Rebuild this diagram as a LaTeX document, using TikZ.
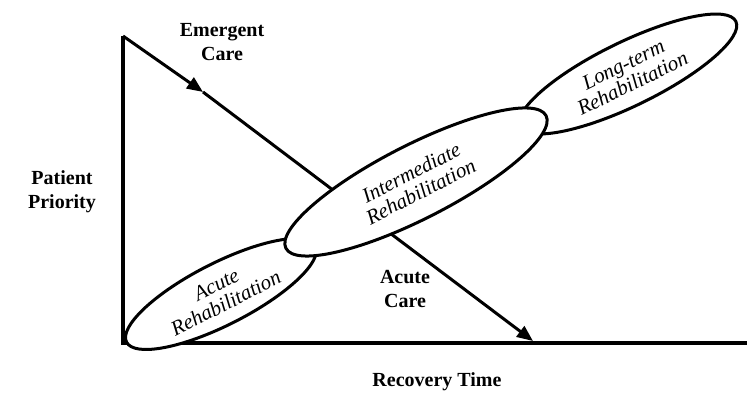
\documentclass[tikz,border=0pt]{standalone}
\usepackage{fontspec}
\setmainfont{Liberation Serif}
\usetikzlibrary{shapes.geometric,arrows.meta}
\begin{document}
\begin{tikzpicture}[x=1pt,y=1pt,
  axisline/.style={line width=3.5pt,line join=miter},
  flowline/.style={line width=3pt,-{Triangle[length=16pt,width=13pt]}},
  rehab/.style={ellipse,draw,line width=3pt,fill=white,inner sep=0pt,align=center,
    font=\fontsize{21}{21}\selectfont\itshape},
  caption/.style={align=center,font=\fontsize{20}{24}\selectfont\bfseries}]
\useasboundingbox (0,0) rectangle (747,412);
% axes and care line
\coordinate (top) at (123,376);
\coordinate (origin) at (123,69);
\coordinate (xend) at (747,69);
\coordinate (mid) at (203,320);
\coordinate (tip) at (533,71);
\draw[axisline] (top) -- (origin) -- (xend);
\draw[flowline] (top) -- (mid);
\draw[flowline] (mid) -- (tip);
% rehabilitation stages
\node[rehab,minimum width=212pt,minimum height=62pt,rotate=27] (acute) at (221,118) {Acute\\Rehabilitation};
\node[rehab,minimum width=240pt,minimum height=64pt,rotate=26] (longterm) at (628,338) {Long-term\\Rehabilitation};
\node[rehab,minimum width=292pt,minimum height=74pt,rotate=27] (inter) at (416,230) {Intermediate\\Rehabilitation};
% labels
\node[caption] (emergent) at (222,370) {Emergent\\Care};
\node[caption] (priority) at (62,220) {Patient\\Priority};
\node[caption] (acutecare) at (405,123) {Acute\\Care};
\node[caption] (time) at (437,30) {Recovery Time};
\end{tikzpicture}
\end{document}
